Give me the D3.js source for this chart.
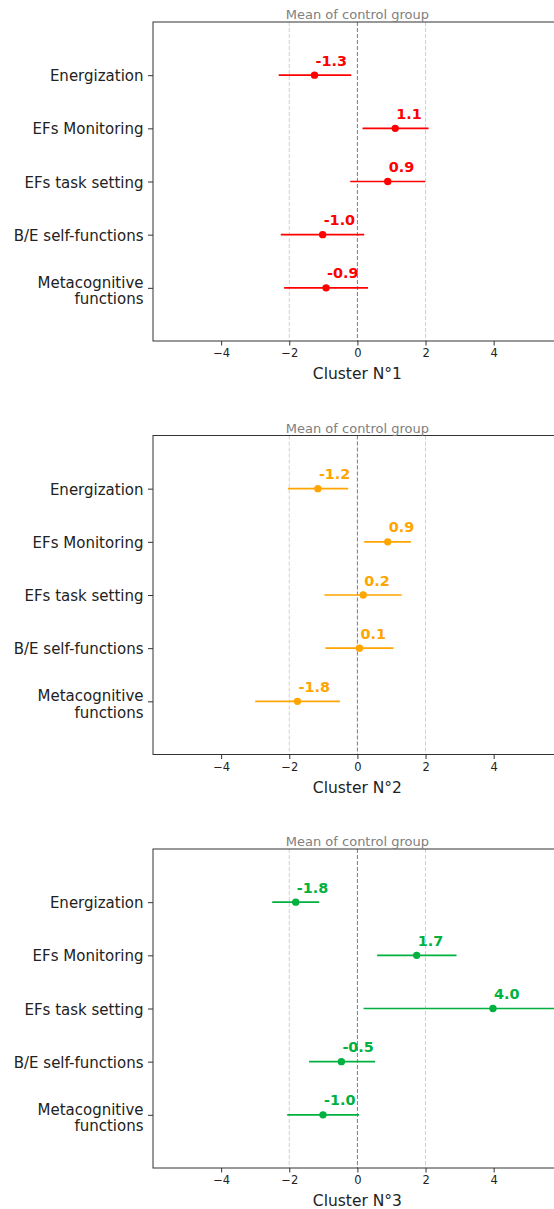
<!DOCTYPE html>
<html>
<head>
<meta charset="utf-8">
<script src="https://d3js.org/d3.v7.min.js"></script>
<style>
  body { margin: 0; background: #fff; }
  svg { display: block; font-family: "DejaVu Sans", sans-serif; }
  .frame { fill: none; stroke: #333; stroke-width: 1; }
  .axis path.domain { display: none; }
  .axis line { stroke: #333; }
  .axis text { fill: #222; }
  .val { font-weight: bold; font-size: 14.4px; }
</style>
</head>
<body>
<svg id="chart" width="554" height="1209"></svg>
<script>
  // categories, top to bottom
  var categories = ["Energization", "EFs Monitoring", "EFs task setting",
                    "B/E self-functions", "Metacognitive\nfunctions"];
  var xTicks = [-4, -2, 0, 2, 4];
  var guideLines = [-2, 2];

  // cluster 1
  var c1Mean = [-1.26, 1.11, 0.89, -1.02, -0.92];
  var c1Lo   = [-2.31, 0.15, -0.21, -2.25, -2.15];
  var c1Hi   = [-0.18, 2.09, 1.99, 0.20, 0.31];
  // cluster 2
  var c2Mean = [-1.16, 0.89, 0.17, 0.06, -1.76];
  var c2Lo   = [-2.04, 0.20, -0.97, -0.94, -3.00];
  var c2Hi   = [-0.27, 1.57, 1.30, 1.06, -0.51];
  // cluster 3
  var c3Mean = [-1.81, 1.74, 3.98, -0.47, -1.01];
  var c3Lo   = [-2.50, 0.58, 0.18, -1.42, -2.06];
  var c3Hi   = [-1.12, 2.91, 7.78, 0.52, 0.05];

  var clusterNames = ["Cluster N°1", "Cluster N°2", "Cluster N°3"];
  var clusterColors = ["#ff0000", "#ffa500", "#00b140"];

  var panels = [
    { mean: c1Mean, lo: c1Lo, hi: c1Hi },
    { mean: c2Mean, lo: c2Lo, hi: c2Hi },
    { mean: c3Mean, lo: c3Lo, hi: c3Hi }
  ];

  var svg = d3.select("#chart");
  var left = 153, right = 561.8, panelH = 319;
  var tops = [22, 435.5, 849];

  var x = d3.scaleLinear().domain([-6, 6]).range([left, right]);

  panels.forEach(function(p, k) {
    var top = tops[k], bottom = top + panelH;
    var color = clusterColors[k];
    var y = d3.scaleLinear().domain([-1, 5]).range([top, bottom]);
    var g = svg.append("g");

    var clipId = "clip" + k;
    g.append("clipPath").attr("id", clipId)
      .append("rect")
        .attr("x", left).attr("y", top)
        .attr("width", right - left).attr("height", panelH);

    // guide lines
    g.selectAll("line.guide")
        .data(guideLines)
      .enter().append("line")
        .attr("class", "guide")
        .attr("x1", function(d) { return x(d); })
        .attr("x2", function(d) { return x(d); })
        .attr("y1", top).attr("y2", bottom)
        .attr("stroke", "#d0d0d0")
        .attr("stroke-width", 1)
        .attr("stroke-dasharray", "4,2");

    g.append("line")
      .attr("x1", x(0)).attr("x2", x(0))
      .attr("y1", top).attr("y2", bottom)
      .attr("stroke", "#7a7a7a")
      .attr("stroke-width", 1)
      .attr("stroke-dasharray", "4,2");

    var idx = d3.range(categories.length);

    // error bars
    g.append("g").attr("clip-path", "url(#" + clipId + ")")
      .selectAll("line")
        .data(idx)
      .enter().append("line")
        .attr("x1", function(i) { return x(p.lo[i]); })
        .attr("x2", function(i) { return x(p.hi[i]); })
        .attr("y1", function(i) { return y(i); })
        .attr("y2", function(i) { return y(i); })
        .attr("stroke", color)
        .attr("stroke-width", 1.6);

    g.selectAll("circle")
        .data(idx)
      .enter().append("circle")
        .attr("cx", function(i) { return x(p.mean[i]); })
        .attr("cy", function(i) { return y(i); })
        .attr("r", 3.7)
        .attr("fill", color);

    g.selectAll("text.val")
        .data(idx)
      .enter().append("text")
        .attr("class", "val")
        .attr("x", function(i) { return x(p.mean[i]) + 1; })
        .attr("y", function(i) { return y(i) - 9.4; })
        .attr("fill", color)
        .text(function(i) { return p.mean[i].toFixed(1); });

    // frame
    g.append("rect").attr("class", "frame")
      .attr("x", left).attr("y", top)
      .attr("width", right - left).attr("height", panelH);

    // x axis
    var xa = g.append("g").attr("class", "axis")
      .attr("transform", "translate(0," + bottom + ")")
      .call(d3.axisBottom(x).tickValues(xTicks).tickSize(4.5).tickPadding(3.5));
    xa.selectAll("text").style("font-size", "11.5px")
      .style("font-family", "DejaVu Sans");

    g.append("text")
      .attr("x", (left + right) / 2)
      .attr("y", bottom + 38)
      .attr("text-anchor", "middle")
      .style("font-size", "15.5px")
      .attr("fill", "#222")
      .text(clusterNames[k]);

    // y axis
    var ya = g.append("g").attr("class", "axis")
      .attr("transform", "translate(" + left + ",0)")
      .call(d3.axisLeft(y).tickValues(idx).tickSize(5).tickFormat(""));
    ya.selectAll(".tick text").remove();
    ya.selectAll(".tick").append("text")
      .attr("x", -9.5)
      .attr("text-anchor", "end")
      .attr("fill", "#222")
      .style("font-size", "15px")
      .style("font-family", "DejaVu Sans")
      .each(function(i) {
        var lines = categories[i].split("\n");
        var t = d3.select(this);
        if (lines.length === 1) {
          t.attr("y", 5.5).text(lines[0]);
        } else {
          lines.forEach(function(s, j) {
            t.append("tspan").attr("x", -9.5)
              .attr("y", -0.8 + j * 16.5).text(s);
          });
        }
      });

    // top annotation
    g.append("text")
      .attr("x", x(0))
      .attr("y", top - 3)
      .attr("text-anchor", "middle")
      .style("font-size", "13px")
      .attr("fill", "#808080")
      .text("Mean of control group");
  });
</script>
</body>
</html>
